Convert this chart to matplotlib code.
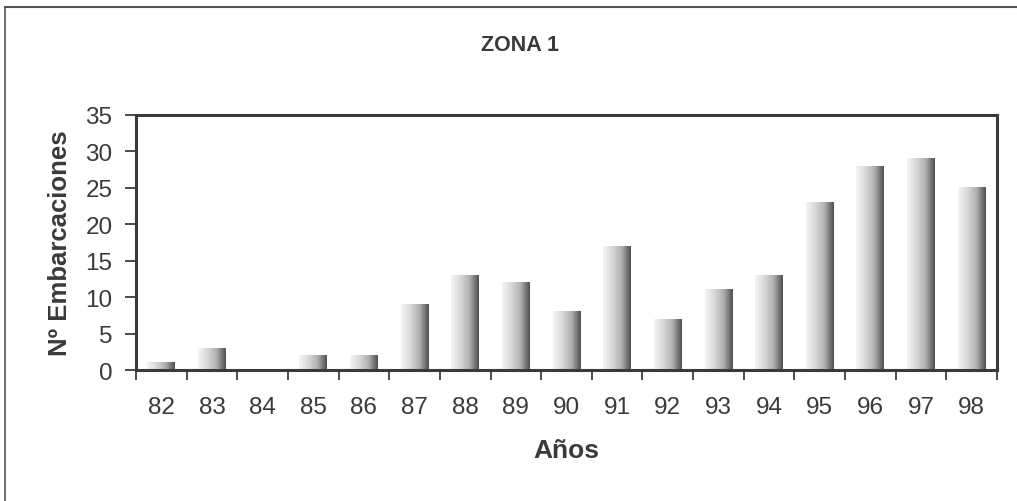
# ZONA 1 - boats per year
import matplotlib
matplotlib.use("Agg")
import matplotlib.pyplot as plt
import numpy as np
from matplotlib.lines import Line2D

# Data
years = ["82", "83", "84", "85", "86", "87", "88", "89", "90",
         "91", "92", "93", "94", "95", "96", "97", "98"]
boats = [1, 3, 0, 2, 2, 9, 13, 12, 8, 17, 7, 11, 13, 23, 28, 29, 25]

plt.rcParams['font.family'] = ['Liberation Sans', 'DejaVu Sans']
ink = '#3a3a3a'

fig = plt.figure(figsize=(10.17, 5.02), dpi=100)
ax = fig.add_axes([136/1017, 1-371/502, (997-136)/1017, (371-116)/502])

x = np.arange(len(years))
bars = ax.bar(x, boats, width=0.55, color='none', edgecolor='none')

# light-to-dark horizontal shading inside each bar
grad = np.linspace(0.0, 1.0, 64).reshape(1, -1)
cmap = matplotlib.colors.LinearSegmentedColormap.from_list(
    'shade', ['#f4f4f4', '#d8d8d8', '#b0b0b0', '#505050'])
for b in bars:
    h = b.get_height()
    if h <= 0:
        continue
    x0 = b.get_x()
    ax.imshow(grad, extent=[x0, x0 + b.get_width(), 0, h], aspect='auto',
              cmap=cmap, interpolation='bicubic', zorder=2)

ax.set_xlim(-0.5, len(years) - 0.5)
ax.set_ylim(0, 35)
ax.set_yticks(range(0, 36, 5))
ax.set_xticks(x)
ax.set_xticklabels(years)
ax.set_xticks(np.arange(-0.5, len(years)), minor=True)
ax.tick_params(axis='x', which='major', length=0, pad=19, labelsize=17.5, labelcolor=ink)
ax.tick_params(axis='x', which='minor', length=7, width=1.3, color=ink, direction='out')
ax.tick_params(axis='y', length=8, width=1.3, color=ink, pad=9, labelsize=17.5, labelcolor=ink)

for s in ax.spines.values():
    s.set_color(ink)
    s.set_linewidth(2.2)

fig.text(520/1017, 1-45.5/502, "ZONA 1", ha='center', va='center',
         fontsize=15.5, fontweight='bold', color=ink)
fig.text(60/1017, 1-243/502, "Nº Embarcaciones", ha='center', va='center',
         rotation=90, fontsize=18.5, fontweight='bold', color=ink)
fig.text(566/1017, 1-451/502, "Años", ha='center', va='center',
         fontsize=19, fontweight='bold', color=ink)

# outer frame (top and left edges visible)
fig.add_artist(Line2D([5/1017, 1.0], [1-8/502, 1-8/502], color='#555555', lw=1.5))
fig.add_artist(Line2D([5/1017, 5/1017], [0.0, 1-8/502], color='#555555', lw=1.2))

fig.savefig("out.png", dpi=100)
